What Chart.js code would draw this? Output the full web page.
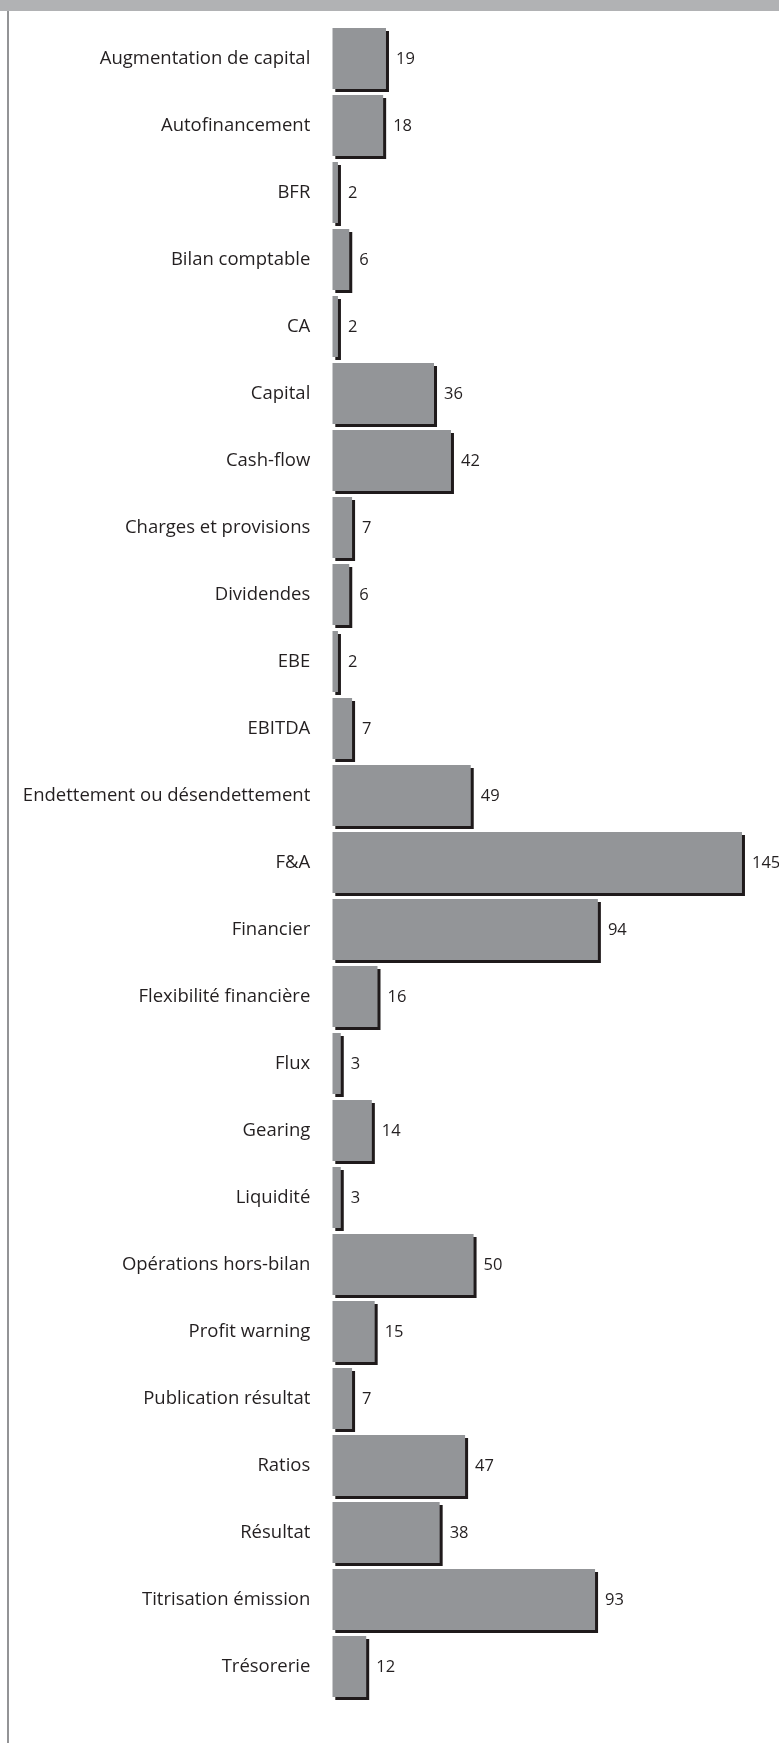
<!DOCTYPE html>
<html lang="fr">
<head>
<meta charset="utf-8">
<title>Occurrences par thème</title>
<script src="https://cdn.jsdelivr.net/npm/chart.js@4/dist/chart.umd.min.js"></script>
<style>
  html, body { margin: 0; padding: 0; background: #ffffff; }
  #frame { position: relative; width: 779px; height: 1743px; overflow: hidden; }
  #band { position: absolute; left: 0; top: 0; width: 779px; height: 11px; background: #b1b2b4; }
  #rule { position: absolute; left: 7px; top: 11px; width: 2px; height: 1732px; background: #939496; }
  #wrap { position: absolute; left: 0; top: 0; width: 779px; height: 1743px; }
</style>
</head>
<body>
<div id="frame">
  <div id="band"></div>
  <div id="rule"></div>
  <div id="wrap"><canvas id="chart" width="779" height="1743"></canvas></div>
</div>
<script>
// Themes and their counts
const categories = [
  "Augmentation de capital",
  "Autofinancement",
  "BFR",
  "Bilan comptable",
  "CA",
  "Capital",
  "Cash-flow",
  "Charges et provisions",
  "Dividendes",
  "EBE",
  "EBITDA",
  "Endettement ou désendettement",
  "F&A",
  "Financier",
  "Flexibilité financière",
  "Flux",
  "Gearing",
  "Liquidité",
  "Opérations hors-bilan",
  "Profit warning",
  "Publication résultat",
  "Ratios",
  "Résultat",
  "Titrisation émission",
  "Trésorerie"
];
const counts = [19, 18, 2, 6, 2, 36, 42, 7, 6, 2, 7, 49, 145, 94, 16, 3, 14, 3, 50, 15, 7, 47, 38, 93, 12];

const INK = "#231f20";
const BAR = "#939598";
const FONT = "'Open Sans', 'Noto Sans', sans-serif";

// Hard offset shadow behind every bar
const barShadow = {
  id: "barShadow",
  beforeDatasetDraw(chart) {
    const ctx = chart.ctx;
    ctx.save();
    ctx.shadowColor = "#1f1a1b";
    ctx.shadowBlur = 0;
    ctx.shadowOffsetX = 3;
    ctx.shadowOffsetY = 3;
  },
  afterDatasetDraw(chart) {
    chart.ctx.restore();
  }
};

// Count printed just past the end of each bar
const valueLabels = {
  id: "valueLabels",
  afterDatasetsDraw(chart) {
    const ctx = chart.ctx;
    const meta = chart.getDatasetMeta(0);
    ctx.save();
    ctx.fillStyle = INK;
    ctx.font = "16.5px " + FONT;
    ctx.textAlign = "left";
    ctx.textBaseline = "middle";
    meta.data.forEach((bar, i) => {
      ctx.fillText(String(counts[i]), bar.x + 10, bar.y + 1);
    });
    ctx.restore();
  }
};

new Chart(document.getElementById("chart"), {
  type: "bar",
  data: {
    labels: categories,
    datasets: [{
      data: counts,
      backgroundColor: BAR,
      borderWidth: 0,
      barPercentage: 0.91,
      categoryPercentage: 1.0
    }]
  },
  options: {
    indexAxis: "y",
    responsive: false,
    animation: false,
    devicePixelRatio: 1,
    layout: { padding: { left: 0, right: 22.9, top: 25, bottom: 43 } },
    plugins: {
      legend: { display: false },
      tooltip: { enabled: false }
    },
    scales: {
      x: {
        display: false,
        min: 0,
        max: 150
      },
      y: {
        grid: { display: false, drawTicks: false },
        border: { display: false },
        ticks: {
          color: INK,
          font: { family: FONT, size: 18.5 },
          padding: 22,
          labelOffset: 0
        },
        afterFit(scale) {
          // fixed gutter for the theme names; no extra vertical margin
          scale.width = 332.3;
          scale.paddingTop = 0;
          scale.paddingBottom = 0;
        }
      }
    }
  },
  plugins: [barShadow, valueLabels]
});
</script>
</body>
</html>
